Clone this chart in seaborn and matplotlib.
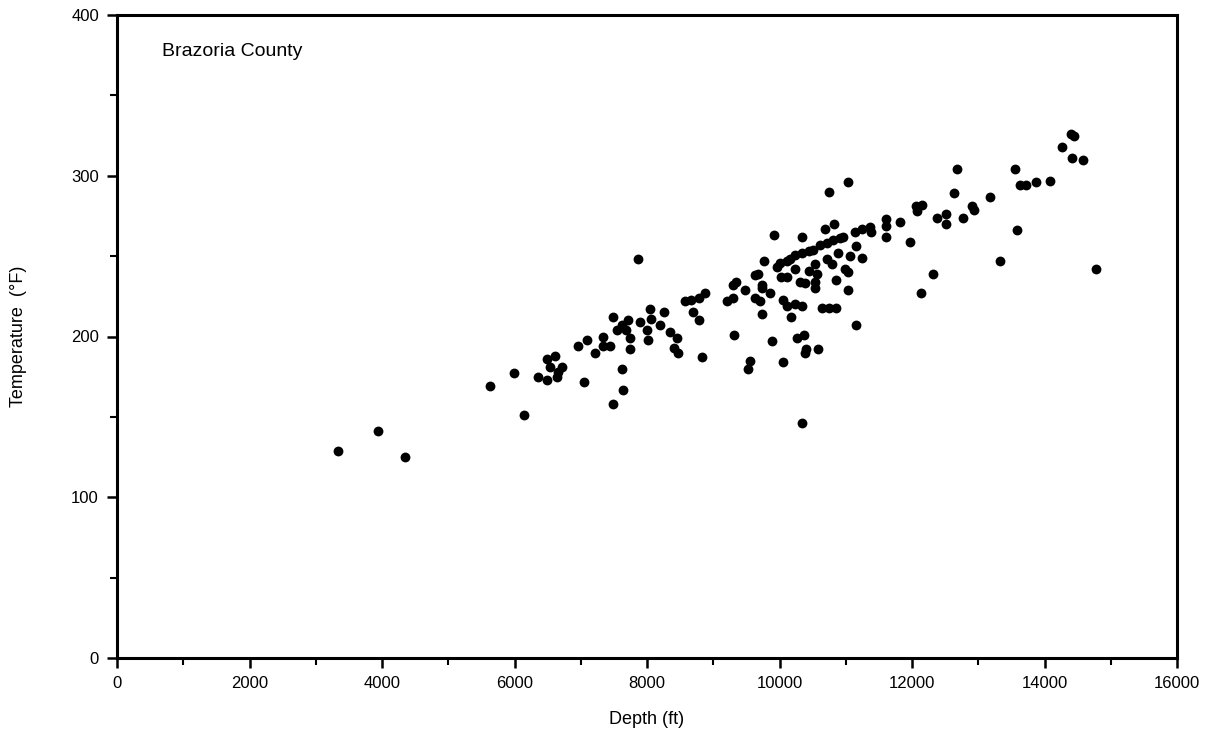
import matplotlib
matplotlib.use("Agg")
import matplotlib.pyplot as plt
import seaborn as sns
import pandas as pd
from matplotlib.ticker import MultipleLocator

depth_ft = [
    7860, 5630, 5990, 6150,
    6490, 6610, 6540, 6710, 6360, 6490, 6640, 6660,
    7050, 6960, 7090,
    7220, 7340, 7440, 7340,
    7490, 7540, 7620, 7720, 7690, 7890,
    7740, 7740, 7620, 7640, 7490,
    8050, 8060, 8250, 8000, 8020, 8200, 8350, 8450, 8400, 8470,
    11030, 10750, 9920, 10340, 10690, 10820,
    11140, 11240, 11370, 11380,
    11610, 11610, 11610, 11820, 11970, 12070, 12150, 12380, 12310, 12140,
    10610, 10710, 10810, 10910, 10960,
    10230, 10340, 10440, 10510,
    9960, 10010, 10110, 10160,
    9760, 10230, 9670, 9630,
    9300, 9350, 9480, 9730, 9730,
    10030, 10110,
    10440, 10540, 10560,
    10310, 10390, 10540, 10540,
    10710, 10790, 10890, 11060, 11160, 11240,
    10990, 11040, 10860, 11040,
    10640, 10740, 10860, 11150,
    8570, 8670, 8780, 8880,
    8700, 8790,
    9200, 9300,
    9630, 9710, 9860, 9730,
    10060, 10110, 10180, 10230, 10340,
    9320, 9880, 10260, 10370, 10400, 10390, 10580,
    10050, 9560, 9530, 8830, 10340,
    14400, 14440, 14270, 14420, 14580, 12680, 13550,
    13630, 13720, 13870, 14080, 12640, 12060,
    13180, 12900, 12930, 12520, 12520, 12770, 13580, 13330, 14770,
    3940, 3340, 4340,
]
temperature_f = [
    248, 169, 177, 151,
    186, 188, 181, 181, 175, 173, 175, 178,
    172, 194, 198,
    190, 194, 194, 200,
    212, 204, 207, 210, 204, 209,
    199, 192, 180, 167, 158,
    217, 211, 215, 204, 198, 207, 203, 199, 193, 190,
    296, 290, 263, 262, 267, 270,
    265, 267, 268, 265,
    273, 269, 262, 271, 259, 278, 282, 274, 239, 227,
    257, 258, 260, 261, 262,
    251, 252, 253, 254,
    243, 246, 247, 248,
    247, 242, 239, 238,
    232, 234, 229, 232, 230,
    237, 237,
    241, 245, 239,
    234, 233, 234, 230,
    248, 245, 252, 250, 256, 249,
    242, 240, 235, 229,
    218, 218, 218, 207,
    222, 223, 224, 227,
    215, 210,
    222, 224,
    224, 222, 227, 214,
    223, 219, 212, 220, 219,
    201, 197, 199, 201, 192, 190, 192,
    184, 185, 180, 187, 146,
    326, 325, 318, 311, 310, 304, 304,
    294, 294, 296, 297, 289, 281,
    287, 281, 279, 276, 270, 274, 266, 247, 242,
    141, 129, 125,
]

x_ticks = [0, 2000, 4000, 6000, 8000, 10000, 12000, 14000, 16000]
y_ticks = [0, 100, 200, 300, 400]
panel_label = "Brazoria County"
x_label = "Depth (ft)"
y_label = "Temperature  (°F)"

df = pd.DataFrame({"depth": depth_ft, "temp": temperature_f})

sns.set_style("ticks")
plt.rcParams["font.family"] = ["Liberation Sans", "DejaVu Sans"]
plt.rcParams["text.color"] = "black"
plt.rcParams["axes.labelcolor"] = "black"
plt.rcParams["xtick.color"] = "black"
plt.rcParams["ytick.color"] = "black"

fig = plt.figure(figsize=(12.18, 7.49), dpi=100)
ax = fig.add_axes([117 / 1218, 1 - 658 / 749, (1177 - 117) / 1218, (658 - 15) / 749])

sns.scatterplot(data=df, x="depth", y="temp", ax=ax, color="black",
                s=50, edgecolor="black", linewidth=0, legend=False)

ax.set_xlim(0, 16000)
ax.set_ylim(0, 400)
ax.set_xticks(x_ticks)
ax.set_yticks(y_ticks)
ax.set_xticklabels([str(v) for v in x_ticks])
ax.set_yticklabels([str(v) for v in y_ticks])
ax.xaxis.set_minor_locator(MultipleLocator(1000))
ax.yaxis.set_minor_locator(MultipleLocator(50))

for sp in ax.spines.values():
    sp.set_visible(True)
    sp.set_linewidth(2.2)
    sp.set_color("black")

ax.tick_params(axis="both", which="major", direction="out", length=7, width=1.8,
               labelsize=12, colors="black", labelcolor="black", pad=6)
ax.tick_params(axis="both", which="minor", direction="out", length=5, width=1.5,
               colors="black")
ax.tick_params(axis="x", which="both", top=False)
ax.tick_params(axis="y", which="both", right=False)

ax.set_xlabel(x_label, fontsize=13, labelpad=14, color="black")
ax.set_ylabel(y_label, fontsize=13, labelpad=32, color="black")

ax.text(680, 377, panel_label, fontsize=14, ha="left", va="center", color="black")

fig.savefig("out.png", dpi=100)
